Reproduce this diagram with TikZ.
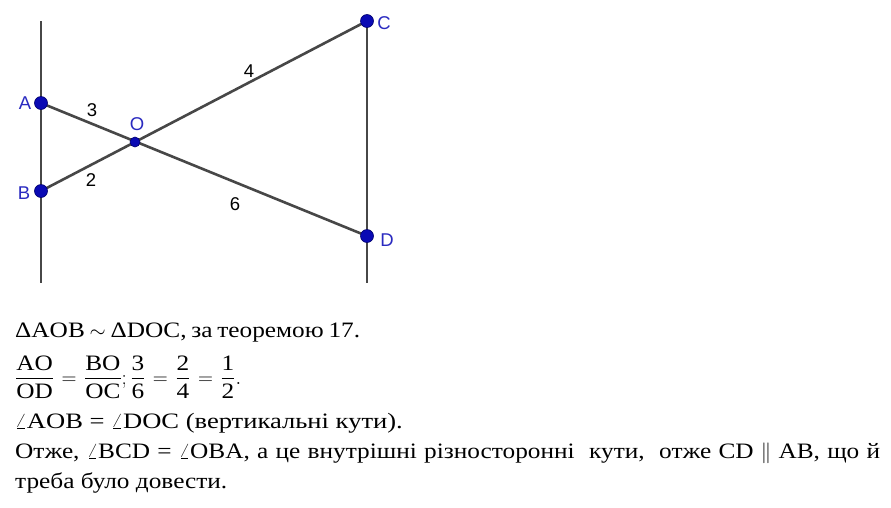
\documentclass[tikz,border=0pt]{standalone}
\usepackage{amsmath}
\usepackage{graphicx}
\usepackage{fontspec}
\setmainfont[FakeStretch=1.15]{Liberation Serif}
\newfontfamily\labelfont{Liberation Sans}
\definecolor{segcol}{HTML}{474747}
\definecolor{ptfill}{HTML}{0A0AB4}
\definecolor{ptdraw}{HTML}{00006E}
\definecolor{lblblue}{HTML}{2A2AC0}
\tikzset{
  seg/.style={draw=segcol, line width=2.6pt},
  pt/.style={circle, fill=ptfill, draw=ptdraw, line width=0.6pt, minimum size=13pt, inner sep=0pt},
  ptlbl/.style={text=lblblue, font=\labelfont\fontsize{18.5}{22}\selectfont, inner sep=0pt},
  numlbl/.style={text=black, font=\labelfont\fontsize{18.5}{22}\selectfont, inner sep=0pt},
  txt/.style={anchor=base west, inner sep=0pt, font=\fontsize{22}{26}\selectfont}
}
\begin{document}
\begin{tikzpicture}[x=1pt,y=-1pt]
\useasboundingbox (0,0) rectangle (891,507);
\fill[white] (0,0) rectangle (891,507);
% free ends of the lines
\coordinate (Ltop) at (41,21);
\coordinate (Lbot) at (41,283);
\coordinate (Rbot) at (367,283);
% points
\coordinate (A) at (41,103);
\coordinate (B) at (41,191);
\coordinate (O) at (135,142);
\coordinate (C) at (367,21);
\coordinate (D) at (367,236);
% lines
\draw[seg] (Ltop) -- (Lbot);
\draw[seg] (C) -- (Rbot);
\draw[seg] (A) -- (D);
\draw[seg] (B) -- (C);
% dots
\node[pt] (pA) at (A) {};
\node[pt] (pB) at (B) {};
\node[pt, minimum size=10pt] (pO) at (O) {};
\node[pt] (pC) at (C) {};
\node[pt] (pD) at (D) {};
% point labels
\node[ptlbl] (lA) at (25,103) {A};
\node[ptlbl] (lB) at (24,193) {B};
\node[ptlbl] (lO) at (137,124) {O};
\node[ptlbl] (lC) at (384,23) {C};
\node[ptlbl] (lD) at (387,240) {D};
% length labels
\node[numlbl] (n3) at (92,110) {3};
\node[numlbl] (n2) at (91,180) {2};
\node[numlbl] (n4) at (249,71) {4};
\node[numlbl] (n6) at (235,204) {6};
% text
\node[txt] (t1) at (15,337) {\makebox[345pt][s]{ΔAOB $\sim$ ΔDOC, за теоремою 17.}};
\node[txt, anchor=west] (t2) at (15,377) {\makebox[226pt][s]{$\dfrac{\text{AO}}{\text{OD}} = \dfrac{\text{BO}}{\text{OC}};\dfrac{\text{3}}{\text{6}} = \dfrac{\text{2}}{\text{4}} = \dfrac{\text{1}}{\text{2}}.$}};
\node[txt] (t3) at (15,428) {\scalebox{1.05}[1]{$\angle$AOB = $\angle$DOC (вертикальні кути).}};
\node[txt] (t4) at (15,458) {\makebox[865pt][s]{Отже, $\angle$BCD = $\angle$OBA, а це внутрішні різносторонні\ \ кути,\ \ отже CD $\parallel$ AB, що й}};
\node[txt] (t5) at (15,488) {треба було довести.};
\end{tikzpicture}
\end{document}
